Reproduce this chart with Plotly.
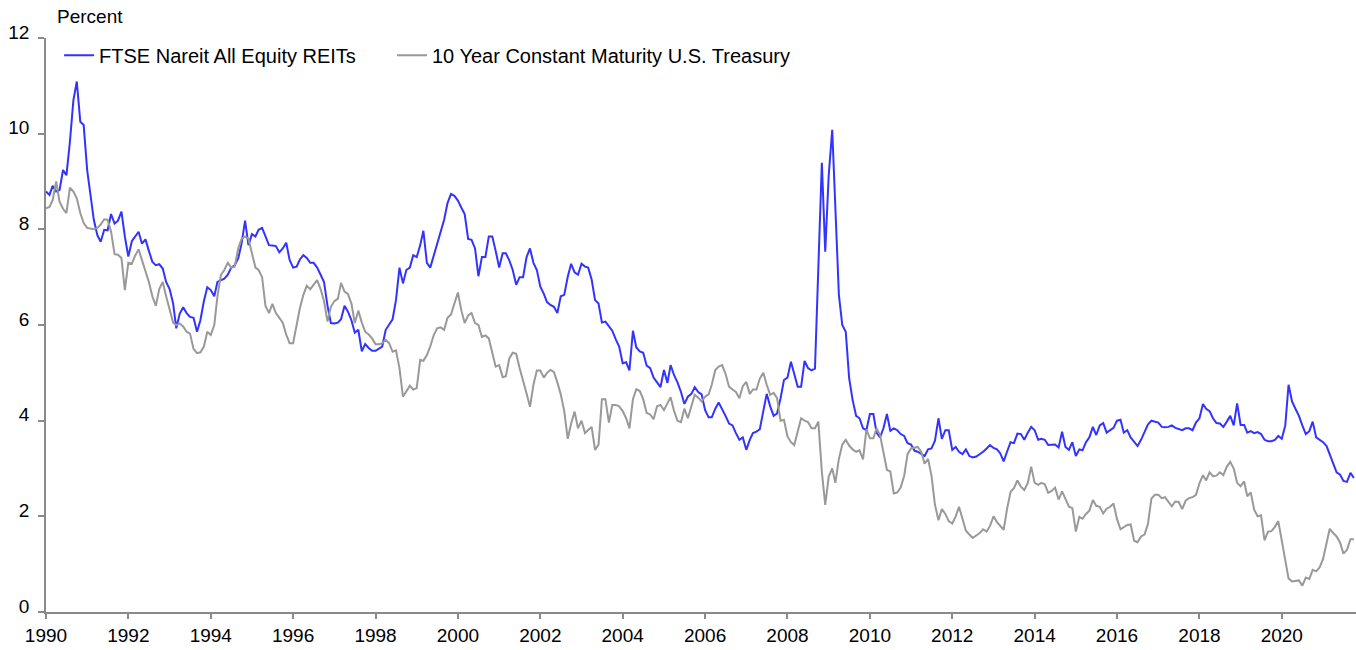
import pandas as pd
import plotly.graph_objects as go

# Month-end values, January 1990 onward (percent)
reit_yield = [
    8.79, 8.72, 8.91, 8.79, 8.82, 9.24, 9.13, 9.83, 10.70, 11.09, 10.25, 10.18,  # 1990
    9.24, 8.70, 8.20, 7.88, 7.74, 7.99, 7.98, 8.32, 8.12, 8.18, 8.37, 7.85,      # 1991
    7.43, 7.75, 7.85, 7.95, 7.70, 7.79, 7.55, 7.32, 7.25, 7.27, 7.18, 6.90,      # 1992
    6.75, 6.45, 5.93, 6.24, 6.37, 6.25, 6.17, 6.15, 5.86, 6.10, 6.50, 6.79,      # 1993
    6.73, 6.60, 6.90, 6.93, 6.97, 7.05, 7.20, 7.25, 7.39, 7.70, 8.18, 7.67,      # 1994
    7.90, 7.85, 7.99, 8.03, 7.85, 7.67, 7.66, 7.65, 7.52, 7.60, 7.72, 7.36,      # 1995
    7.20, 7.22, 7.37, 7.46, 7.40, 7.30, 7.30, 7.20, 7.05, 6.90, 6.40, 6.04,      # 1996
    6.03, 6.05, 6.12, 6.40, 6.28, 6.10, 5.84, 5.90, 5.45, 5.60, 5.52, 5.46,      # 1997
    5.46, 5.50, 5.55, 5.90, 6.02, 6.12, 6.52, 7.20, 6.87, 7.15, 7.20, 7.46,      # 1998
    7.42, 7.67, 7.97, 7.30, 7.20, 7.45, 7.67, 7.90, 8.20, 8.55, 8.74, 8.70,      # 1999
    8.60, 8.45, 8.32, 7.80, 7.78, 7.60, 7.02, 7.42, 7.42, 7.85, 7.85, 7.55,      # 2000
    7.20, 7.50, 7.50, 7.35, 7.15, 6.84, 7.00, 7.00, 7.42, 7.60, 7.30, 7.15,      # 2001
    6.80, 6.65, 6.48, 6.42, 6.38, 6.25, 6.60, 6.63, 7.01, 7.28, 7.10, 7.05,      # 2002
    7.28, 7.22, 7.20, 6.95, 6.52, 6.45, 6.05, 6.07, 5.97, 5.88, 5.70, 5.55,      # 2003
    5.20, 5.22, 5.05, 5.88, 5.53, 5.45, 5.42, 5.15, 5.10, 4.90, 4.80, 4.70,      # 2004
    5.06, 4.79, 5.16, 4.95, 4.80, 4.60, 4.35, 4.50, 4.56, 4.70, 4.60, 4.55,      # 2005
    4.22, 4.07, 4.07, 4.25, 4.38, 4.25, 4.10, 3.94, 3.90, 3.74, 3.60, 3.65,      # 2006
    3.39, 3.60, 3.74, 3.77, 3.82, 4.20, 4.56, 4.30, 4.10, 4.15, 4.47, 4.85,      # 2007
    4.90, 5.23, 4.95, 4.71, 4.71, 5.25, 5.10, 5.05, 5.09, 7.30, 9.39, 7.53,      # 2008
    9.14, 10.08, 8.50, 6.63, 6.00, 5.86, 4.89, 4.43, 4.10, 4.05, 3.84, 3.80,     # 2009
    4.14, 4.14, 3.75, 3.65, 3.84, 4.14, 3.79, 3.84, 3.80, 3.72, 3.68, 3.53,      # 2010
    3.50, 3.37, 3.35, 3.30, 3.26, 3.40, 3.42, 3.58, 4.05, 3.62, 3.80, 3.80,      # 2011
    3.39, 3.45, 3.35, 3.30, 3.40, 3.26, 3.23, 3.25, 3.30, 3.35, 3.42, 3.49,      # 2012
    3.43, 3.40, 3.32, 3.15, 3.35, 3.55, 3.53, 3.73, 3.72, 3.60, 3.75, 3.87,      # 2013
    3.80, 3.60, 3.62, 3.60, 3.49, 3.49, 3.50, 3.44, 3.77, 3.45, 3.39, 3.55,      # 2014
    3.26, 3.40, 3.38, 3.55, 3.65, 3.87, 3.70, 3.90, 3.95, 3.75, 3.80, 3.85,      # 2015
    4.00, 4.02, 3.75, 3.80, 3.65, 3.55, 3.47, 3.60, 3.75, 3.92, 4.00, 3.98,      # 2016
    3.96, 3.87, 3.86, 3.87, 3.90, 3.85, 3.82, 3.80, 3.84, 3.84, 3.80, 3.96,      # 2017
    4.05, 4.35, 4.25, 4.20, 4.05, 3.95, 3.94, 3.87, 3.98, 4.10, 3.90, 4.36,      # 2018
    3.91, 3.91, 3.75, 3.78, 3.74, 3.76, 3.72, 3.60, 3.57, 3.57, 3.60, 3.68,      # 2019
    3.62, 3.90, 4.75, 4.40, 4.25, 4.10, 3.90, 3.72, 3.78, 3.98, 3.65, 3.60,      # 2020
    3.55, 3.47, 3.30, 3.07, 2.92, 2.87, 2.74, 2.72, 2.91, 2.80,                  # 2021
]

treasury_10y = [
    8.44, 8.47, 8.61, 9.00, 8.58, 8.43, 8.34, 8.87, 8.79, 8.65, 8.34, 8.13,      # 1990
    8.03, 8.01, 8.00, 8.03, 8.10, 8.21, 8.20, 7.95, 7.48, 7.47, 7.40, 6.73,      # 1991
    7.30, 7.28, 7.45, 7.58, 7.35, 7.15, 6.90, 6.60, 6.40, 6.75, 6.90, 6.60,      # 1992
    6.30, 6.05, 6.00, 6.03, 5.97, 5.86, 5.82, 5.50, 5.41, 5.43, 5.55, 5.86,      # 1993
    5.79, 6.00, 6.60, 7.05, 7.15, 7.30, 7.20, 7.22, 7.60, 7.80, 7.85, 7.80,      # 1994
    7.50, 7.20, 7.15, 7.00, 6.40, 6.25, 6.44, 6.25, 6.15, 6.05, 5.80, 5.62,      # 1995
    5.62, 6.00, 6.35, 6.63, 6.82, 6.75, 6.85, 6.94, 6.75, 6.50, 6.07, 6.38,      # 1996
    6.50, 6.55, 6.88, 6.70, 6.65, 6.45, 6.04, 6.30, 6.05, 5.86, 5.80, 5.72,      # 1997
    5.60, 5.60, 5.62, 5.69, 5.62, 5.44, 5.47, 5.10, 4.50, 4.60, 4.73, 4.65,      # 1998
    4.68, 5.27, 5.25, 5.37, 5.55, 5.79, 5.93, 5.95, 5.90, 6.15, 6.22, 6.45,      # 1999
    6.68, 6.30, 6.04, 6.20, 6.25, 6.04, 6.00, 5.75, 5.78, 5.72, 5.45, 5.13,      # 2000
    5.16, 4.91, 4.93, 5.30, 5.42, 5.40, 5.10, 4.85, 4.57, 4.29, 4.75, 5.05,      # 2001
    5.05, 4.90, 5.00, 5.06, 5.02, 4.80, 4.55, 4.20, 3.62, 3.94, 4.19, 3.84,      # 2002
    4.00, 3.74, 3.80, 3.87, 3.39, 3.50, 4.45, 4.45, 3.96, 4.33, 4.33, 4.30,      # 2003
    4.20, 4.05, 3.84, 4.45, 4.66, 4.62, 4.45, 4.16, 4.13, 4.03, 4.30, 4.33,      # 2004
    4.22, 4.35, 4.49, 4.20, 4.00, 3.97, 4.25, 4.05, 4.33, 4.54, 4.48, 4.40,      # 2005
    4.50, 4.55, 4.75, 5.06, 5.13, 5.16, 4.98, 4.71, 4.65, 4.60, 4.47, 4.72,      # 2006
    4.81, 4.56, 4.65, 4.65, 4.88, 5.00, 4.75, 4.54, 4.58, 4.47, 4.00, 4.02,      # 2007
    3.67, 3.55, 3.49, 3.77, 4.05, 4.00, 3.97, 3.84, 3.84, 3.98, 2.93, 2.24,      # 2008
    2.83, 3.00, 2.70, 3.20, 3.50, 3.60, 3.48, 3.40, 3.35, 3.38, 3.19, 3.82,      # 2009
    3.63, 3.63, 3.84, 3.70, 3.30, 2.97, 2.94, 2.48, 2.50, 2.60, 2.85, 3.30,      # 2010
    3.42, 3.44, 3.45, 3.35, 3.10, 3.20, 2.85, 2.24, 1.92, 2.15, 2.05, 1.90,      # 2011
    1.85, 2.00, 2.20, 1.95, 1.70, 1.62, 1.55, 1.60, 1.65, 1.73, 1.68, 1.80,      # 2012
    2.00, 1.88, 1.80, 1.72, 2.15, 2.51, 2.59, 2.75, 2.62, 2.55, 2.70, 3.04,      # 2013
    2.70, 2.66, 2.70, 2.67, 2.49, 2.53, 2.60, 2.35, 2.52, 2.35, 2.20, 2.17,      # 2014
    1.68, 1.99, 1.95, 2.05, 2.12, 2.34, 2.22, 2.20, 2.06, 2.16, 2.20, 2.27,      # 2015
    1.94, 1.73, 1.78, 1.82, 1.83, 1.49, 1.46, 1.58, 1.62, 1.84, 2.37, 2.45,      # 2016
    2.45, 2.38, 2.40, 2.29, 2.21, 2.31, 2.30, 2.15, 2.33, 2.38, 2.40, 2.45,      # 2017
    2.69, 2.86, 2.75, 2.92, 2.84, 2.85, 2.92, 2.86, 3.04, 3.14, 3.00, 2.70,      # 2018
    2.63, 2.73, 2.42, 2.50, 2.14, 2.00, 2.02, 1.50, 1.68, 1.69, 1.78, 1.90,      # 2019
    1.51, 1.13, 0.70, 0.64, 0.65, 0.66, 0.55, 0.72, 0.69, 0.88, 0.85, 0.93,      # 2020
    1.11, 1.44, 1.74, 1.65, 1.58, 1.45, 1.22, 1.30, 1.52, 1.52,                  # 2021
]

series_names = ["FTSE Nareit All Equity REITs", "10 Year Constant Maturity U.S. Treasury"]
y_ticks = [0, 2, 4, 6, 8, 10, 12]
y_title = "Percent"

months = pd.date_range("1990-01-01", periods=len(reit_yield), freq="MS")

FONT = "Liberation Sans, Arial, sans-serif"
AXIS_COLOR = "#8a8a8a"
FS = 19
LEG_FS = 20

fig = go.Figure()
fig.add_trace(go.Scatter(x=months, y=reit_yield, name=series_names[0], mode="lines",
                         line=dict(color="#3333ff", width=2), legend="legend"))
fig.add_trace(go.Scatter(x=months, y=treasury_10y, name=series_names[1], mode="lines",
                         line=dict(color="#999999", width=2), legend="legend2"))

legend_common = dict(orientation="h", y=0.97, xanchor="left", yanchor="middle",
                     font=dict(family=FONT, size=LEG_FS, color="#000000"),
                     bgcolor="rgba(0,0,0,0)", itemwidth=30)

fig.update_layout(
    width=1356, height=650,
    margin=dict(l=46, r=0, t=38, b=38),
    paper_bgcolor="white", plot_bgcolor="white",
    font=dict(family=FONT, size=FS, color="#000000"),
    showlegend=True,
    legend=dict(x=0.010, **legend_common),
    legend2=dict(x=0.2641, **legend_common),
    hovermode=False,
    annotations=[dict(text=y_title, xref="paper", yref="paper", x=0.007, y=1.037,
                      xanchor="left", yanchor="middle", showarrow=False,
                      font=dict(family=FONT, size=FS, color="#000000"))],
)

fig.update_xaxes(
    type="date", range=["1990-01-01", "2021-10-20"],
    tick0="1990-01-01", dtick="M24", tickformat="%Y",
    ticks="outside", ticklen=5, tickwidth=1.5, tickcolor=AXIS_COLOR,
    showline=True, linecolor=AXIS_COLOR, linewidth=1.5,
    showgrid=False, zeroline=False,
    tickfont=dict(family=FONT, size=FS, color="#000000"),
)
fig.update_yaxes(
    range=[0, 12], tickvals=y_ticks,
    ticks="outside", ticklen=6, tickwidth=1.5, tickcolor=AXIS_COLOR,
    showline=True, linecolor=AXIS_COLOR, linewidth=1.5,
    showgrid=False, zeroline=False,
    ticklabelstandoff=5, ticklabelshift=-6,
    tickfont=dict(family=FONT, size=FS, color="#000000"),
)

fig.write_html("out.html", include_plotlyjs=True, config={"displayModeBar": False},
               post_script="document.body.style.margin='0';document.body.style.overflow='hidden';")
